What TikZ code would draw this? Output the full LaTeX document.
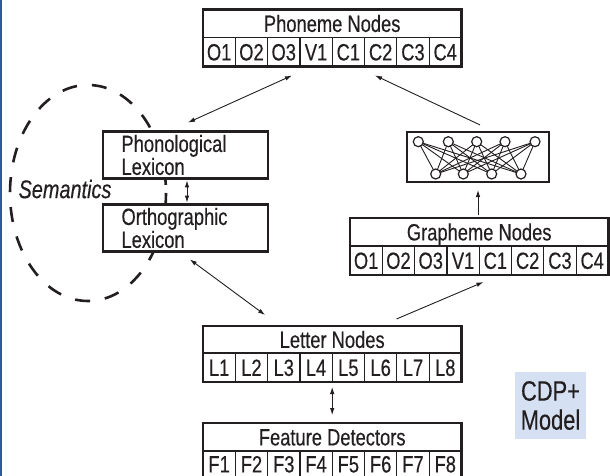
\documentclass[tikz,border=0pt]{standalone}
\usepackage{fontspec}
\setmainfont[FakeStretch=0.78,FakeBold=0.35]{Liberation Sans}
\usetikzlibrary{arrows.meta,fit,calc}
\definecolor{ink}{HTML}{231F20}
\definecolor{cdpblue}{HTML}{D5E0F2}
\definecolor{edgeblue}{HTML}{2B5AA3}
\newcommand\mktable[7]{%
  \node[titlecell, minimum height=#4] (#1t) at (#2,#3) {#6};
  \foreach \c [count=\i] in {#7} {
    \node[cellbox, minimum height=#5] (#1c\i) at ($(#1t.south west)+({(\i-1)*32.3},0)$) {\c};
  }
  \node[fit=(#1t)(#1c1)(#1c8), outerbox] (#1) {};
}
\begin{document}
\begin{tikzpicture}[x=1pt,y=-1pt,
  every node/.style={text=ink, outer sep=0pt},
  titlecell/.style={draw=ink, line width=1.8pt, fill=white, minimum width=258.4pt, inner sep=0pt,
    font=\fontsize{23.5}{23.5}\selectfont, text height=16.8pt, text depth=0pt, anchor=north west},
  cellbox/.style={draw=ink, line width=1.2pt, fill=white, minimum width=32.3pt, inner sep=0pt,
    font=\fontsize{23.5}{23.5}\selectfont, text height=16.8pt, text depth=0pt, anchor=north west},
  outerbox/.style={draw=ink, line width=2.6pt, inner sep=0pt},
  lexbox/.style={draw=ink, line width=2.6pt, fill=white, minimum width=165pt, minimum height=46pt,
    text width=128pt, inner xsep=18.5pt, align=left, font=\fontsize{23.5}{19}\selectfont},
  neuron/.style={circle, draw=ink, line width=1.2pt, fill=white, minimum size=10pt, inner sep=0pt},
  link/.style={draw=ink, line width=0.9pt},
  ar/.style={draw=ink, line width=0.9pt, -{Latex[length=7pt,width=4.5pt]}},
  dar/.style={draw=ink, line width=0.9pt, {Latex[length=7pt,width=4.5pt]}-{Latex[length=7pt,width=4.5pt]}},
  semline/.style={draw=ink, line width=2.6pt, dash pattern=on 15pt off 15pt, dash phase=5pt}
]
\useasboundingbox (0,0) rectangle (610,476);
\fill[white] (0,0) rectangle (610,476);
\fill[edgeblue] (0,0) rectangle (1.8,476);

% semantics ellipse (behind boxes)
\draw[semline] (88,193) ellipse [x radius=78, y radius=108];
\node[font=\fontsize{25.5}{25.5}\selectfont\itshape] (sem) at (65,189) {Semantics};

% lexicons
\node[lexbox] (phlex) at (185.5,155) {Phonological\\Lexicon};
\node[lexbox] (ortho) at (185.5,228) {Orthographic\\Lexicon};

% tables
\mktable{ph}{203}{9.5}{28pt}{29pt}{Phoneme Nodes}{O1,O2,O3,V1,C1,C2,C3,C4}
\mktable{gr}{350}{218}{28pt}{29pt}{Grapheme Nodes}{O1,O2,O3,V1,C1,C2,C3,C4}
\mktable{le}{203}{326}{27pt}{29pt}{Letter Nodes}{L1,L2,L3,L4,L5,L6,L7,L8}
\mktable{fe}{203}{423}{28pt}{26pt}{Feature Detectors}{F1,F2,F3,F4,F5,F6,F7,F8}

% network
\node[draw=ink, line width=2.2pt, fill=white, minimum width=142pt, minimum height=50pt] (net) at (478,157) {};
\foreach \x [count=\i] in {418.3,448.3,476.7,505,535} {
  \node[neuron] (u\i) at (\x,141.7) {};
}
\foreach \x [count=\j] in {435.7,463.3,491.7,521} {
  \node[neuron] (d\j) at (\x,174) {};
}
\foreach \i in {1,...,5} {
  \foreach \j in {1,...,4} {
    \draw[link] (u\i) -- (d\j);
  }
}

% CDP+ label
\node[fill=cdpblue, minimum width=71pt, minimum height=67pt, inner sep=0pt, align=center,
  font=\fontsize{28}{29}\selectfont] (cdp) at (550.5,405.5) {CDP+\\Model};

% connectors
\draw[dar, shorten <=22pt, shorten >=22pt] ([xshift=109pt]ph.south west) -- ([xshift=65pt]phlex.north west);
\draw[dar, shorten <=2pt, shorten >=2pt] ([xshift=84pt]phlex.south west) -- ([xshift=84pt]ortho.north west);
\draw[dar, shorten <=13.5pt, shorten >=18.6pt] ([xshift=76pt]ortho.south west) -- ([xshift=77pt]le.north west);
\draw[ar, shorten <=18pt, shorten >=18pt] ([xshift=177pt]le.north west) -- ([xshift=150pt]gr.south west);
\draw[ar, shorten <=3pt, shorten >=8pt] ([xshift=128pt]gr.north west) -- (net.south);
\draw[ar, shorten <=16.6pt, shorten >=21pt] ([xshift=88pt]net.north west) -- ([xshift=153pt]ph.south west);
\draw[dar, shorten <=5pt, shorten >=8pt] (le.south) -- (fe.north);
\end{tikzpicture}
\end{document}
